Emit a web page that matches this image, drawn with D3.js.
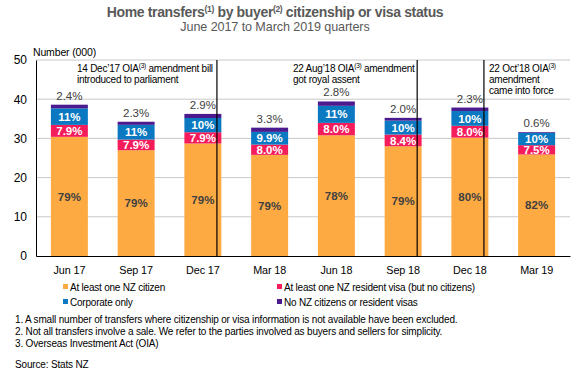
<!DOCTYPE html>
<html><head><meta charset="utf-8">
<script src="https://cdn.jsdelivr.net/npm/d3@7"></script>
<style>
html,body{margin:0;padding:0;background:#fff;}
svg{display:block;font-family:"Liberation Sans",Arial,sans-serif;}
</style></head>
<body><svg id="c" width="583" height="377"></svg>
<script>
const quarters = ["Jun 17","Sep 17","Dec 17","Mar 18","Jun 18","Sep 18","Dec 18","Mar 19"];
// values in thousands
const nzCitizen   = [30.4, 27.0, 28.7, 25.8, 30.8, 28.0, 30.2, 25.9];
const residentVisa= [3.04, 2.70, 2.87, 2.62, 3.16, 2.98, 3.02, 2.37];
const corporate   = [4.24, 3.76, 3.63, 3.24, 4.35, 3.55, 3.78, 3.16];
const noNZ        = [0.92, 0.79, 1.05, 1.08, 1.11, 0.71, 0.87, 0.19];
// percentage labels
const pctCitizen  = ["79%","79%","79%","79%","78%","79%","80%","82%"];
const pctResident = ["7.9%","7.9%","7.9%","8.0%","8.0%","8.4%","8.0%","7.5%"];
const pctCorporate= ["11%","11%","10%","9.9%","11%","10%","10%","10%"];
const pctNoNZ     = ["2.4%","2.3%","2.9%","3.3%","2.8%","2.0%","2.3%","0.6%"];
const yTicks = [0,10,20,30,40,50];
const seriesNames = ["At least one NZ citizen","At least one NZ resident visa (but no citizens)","Corporate only","No NZ citizens or resident visas"];
const colors = ["#FDAA43","#F41C5A","#0B79C1","#4B1A8E"];
const events = [
  {q:"Dec 17", lines:[["14 Dec’17 OIA","(3)"," amendment bill"],["introduced to parliament"]], textX:77},
  {q:"Sep 18", lines:[["22 Aug’18 OIA","(3)"," amendment"],["got royal assent"]], textX:293},
  {q:"Dec 18", lines:[["22 Oct’18 OIA","(3)",""],["amendment"],["came into force"]], textX:489}
];

const svg = d3.select("#c");
const L=36, R=570, T=60, B=256;
const x = d3.scaleBand().domain(quarters).range([L,R]).paddingInner(0.446).paddingOuter(0.223);
const y = d3.scaleLinear().domain([0,50]).range([B,T]);

// title
const title = svg.append("text").attr("x",275).attr("y",17).attr("text-anchor","middle")
  .attr("font-size",14).attr("letter-spacing",-0.35).attr("font-weight","bold").attr("fill","#595959");
title.append("tspan").text("Home transfers");
title.append("tspan").attr("font-size",8.5).attr("dy",-5).text("(1)");
title.append("tspan").attr("dy",5).text(" by buyer");
title.append("tspan").attr("font-size",8.5).attr("dy",-5).text("(2)");
title.append("tspan").attr("dy",5).text(" citizenship or visa status");
svg.append("text").attr("x",275).attr("y",31).attr("text-anchor","middle")
  .attr("font-size",12.6).attr("letter-spacing",-0.1).attr("fill","#595959").text("June 2017 to March 2019 quarters");

// gridlines
svg.append("g").selectAll("line").data(yTicks.filter(d=>d>0)).join("line")
  .attr("x1",L).attr("x2",R).attr("y1",d=>y(d)).attr("y2",d=>y(d))
  .attr("stroke","#C8C8C8").attr("stroke-width",1);

// y axis
const ya = svg.append("g").attr("transform",`translate(${L},0)`)
  .call(d3.axisLeft(y).tickValues(yTicks).tickSize(0).tickPadding(9));
ya.select(".domain").attr("stroke","#000");
ya.selectAll("text").attr("font-size",12).attr("fill","#000").attr("font-family","Liberation Sans, Arial, sans-serif");
svg.append("text").attr("x",33).attr("y",56).attr("font-size",10.5).attr("letter-spacing",-0.15).attr("fill","#000").text("Number (000)");

// stacked bars
const rows = quarters.map((q,i)=>({q, v:[nzCitizen[i],residentVisa[i],corporate[i],noNZ[i]],
  p:[pctCitizen[i],pctResident[i],pctCorporate[i],pctNoNZ[i]]}));
const segs = [];
rows.forEach(r=>{let acc=0; r.v.forEach((v,k)=>{segs.push({q:r.q,k,y0:acc,y1:acc+v,lab:r.p[k]}); acc+=v;}); r.total=acc;});
svg.append("g").selectAll("rect").data(segs).join("rect")
  .attr("x",d=>x(d.q)).attr("width",x.bandwidth())
  .attr("y",d=>y(d.y1)).attr("height",d=>y(d.y0)-y(d.y1))
  .attr("fill",d=>colors[d.k]);

// segment labels
svg.append("g").selectAll("text").data(segs.filter(d=>d.k<3)).join("text")
  .attr("x",d=>x(d.q)+x.bandwidth()/2).attr("y",d=>(y(d.y0)+y(d.y1))/2)
  .attr("dy","0.36em").attr("text-anchor","middle").attr("font-size",11.5).attr("font-weight","bold")
  .attr("fill",d=>d.k===0?"#404040":"#fff").text(d=>d.lab);
svg.append("g").selectAll("text").data(segs.filter(d=>d.k===3)).join("text")
  .attr("x",d=>x(d.q)+x.bandwidth()/2).attr("y",d=>y(d.y1)-5)
  .attr("text-anchor","middle").attr("font-size",11.5).attr("fill","#404040").text(d=>d.lab);

// x axis
const xa = svg.append("g").attr("transform",`translate(0,${B})`)
  .call(d3.axisBottom(x).tickSize(0).tickPadding(10));
xa.select(".domain").attr("stroke","#000").attr("stroke-width",1.2);
xa.selectAll("text").attr("font-size",10.8).attr("letter-spacing",-0.1).attr("fill","#000").attr("font-family","Liberation Sans, Arial, sans-serif");

// event lines and annotations
events.forEach(e=>{
  const ex = x(e.q)+x.bandwidth()*0.88;
  svg.append("line").attr("x1",ex).attr("x2",ex).attr("y1",T).attr("y2",B).attr("stroke","#000").attr("stroke-width",1.2);
  e.lines.forEach((ln,i)=>{
    const t = svg.append("text").attr("x",e.textX).attr("y",72+i*11).attr("font-size",10).attr("letter-spacing",-0.25).attr("fill","#000");
    t.append("tspan").text(ln[0]);
    if(ln.length>1){
      t.append("tspan").attr("font-size",6.5).attr("dy",-4).text(ln[1]);
      t.append("tspan").attr("dy",4).text(ln[2]);
    }
  });
});

// legend
const legPos = [[63,287],[277,287],[63,302],[277,302]];
const leg = svg.append("g").selectAll("g").data(seriesNames).join("g")
  .attr("transform",(d,i)=>`translate(${legPos[i][0]},${legPos[i][1]})`);
leg.append("rect").attr("x",0).attr("y",-3).attr("width",5).attr("height",5).attr("fill",(d,i)=>colors[i]);
leg.append("text").attr("x",7).attr("y",0).attr("dy","0.35em").attr("font-size",10).attr("letter-spacing",-0.22).attr("fill","#000").text(d=>d);

// footnotes
const notes = ["1. A small number of transfers where citizenship or visa information is not available have been excluded.",
 "2. Not all transfers involve a sale. We refer to the parties involved as buyers and sellers for simplicity.",
 "3. Overseas Investment Act (OIA)"];
svg.append("g").selectAll("text").data(notes).join("text")
  .attr("x",15).attr("y",(d,i)=>323+i*12).attr("font-size",10).attr("letter-spacing",-0.17).attr("fill","#000").text(d=>d);
svg.append("text").attr("x",15).attr("y",368).attr("font-size",10).attr("letter-spacing",-0.17).attr("fill","#000").text("Source: Stats NZ");
</script></body></html>
